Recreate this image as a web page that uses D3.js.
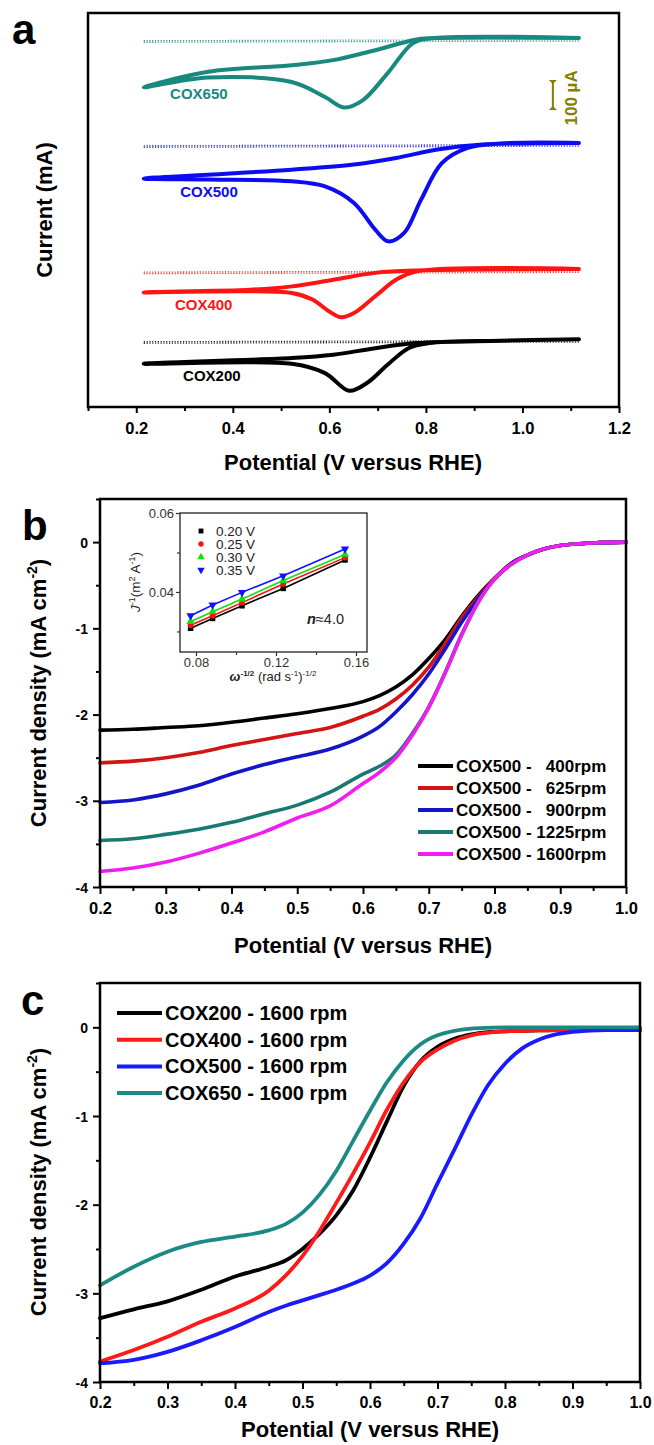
<!DOCTYPE html>
<html>
<head>
<meta charset="utf-8">
<script src="https://cdn.jsdelivr.net/npm/d3@7"></script>
<style>
  body { margin: 0; background: #fff; }
  svg { display: block; }
  text { font-family: "Liberation Sans", Arial, Helvetica, sans-serif; }
</style>
</head>
<body>
<svg id="fig" width="654" height="1445"></svg>
<script>
// ---------- panel a : CV loops, [potential V, current µA relative to plateau]
const cvNames = ["COX650", "COX500", "COX400", "COX200"];
const cvColors = ["#17897f", "#0c0cf2", "#ff1414", "#000000"];
const cvOffsets = [1230, 880, 460, 226];          // stacking offsets (µA)
const cvBackground = [-12, -12, -13, -11];        // N2 background level (µA)
const cv650 = [[1.117, 0], [0.807, -2], [0.772, -19], [0.720, -119], [0.669, -208], [0.630, -232],
  [0.591, -197], [0.522, -147], [0.349, -132], [0.2155, -165], [0.349, -113], [0.522, -91],
  [0.608, -74], [0.695, -41], [0.781, -5], [0.83, 0], [1.117, 0]];
const cv500 = [[1.117, 0], [0.954, -2], [0.885, -17], [0.833, -67], [0.790, -189], [0.755, -300],
  [0.722, -328], [0.695, -289], [0.651, -200], [0.591, -145], [0.522, -128], [0.349, -122],
  [0.2155, -119], [0.349, -106], [0.522, -89], [0.651, -72], [0.738, -50], [0.824, -22],
  [0.911, -6], [1.117, 0]];
const cv400 = [[1.117, 0], [0.781, -8], [0.738, -36], [0.695, -91], [0.651, -147], [0.624, -161],
  [0.599, -141], [0.565, -102], [0.522, -80], [0.2155, -78], [0.436, -69], [0.522, -58],
  [0.608, -36], [0.695, -13], [0.781, -5], [1.117, 0]];
const cv200 = [[1.117, 0], [0.954, -5], [0.807, -13], [0.764, -30], [0.720, -86], [0.677, -147],
  [0.641, -172], [0.591, -113], [0.522, -82], [0.2155, -82], [0.522, -63], [0.608, -52],
  [0.695, -30], [0.781, -13], [0.954, -5], [1.117, 0]];
const cvLoops = [cv650, cv500, cv400, cv200];
const cvLabelPos = [[0.270, -203], [0.291, -180], [0.280, -137], [0.297, -139]];
const cvTicks = [0.2, 0.4, 0.6, 0.8, 1.0, 1.2];
const cvMinorTicks = [0.1, 0.3, 0.5, 0.7, 0.9, 1.1];

// ---------- panel b : LSV of COX500 at different rotation rates
const bPotential = [0.2, 0.25, 0.3, 0.35, 0.4, 0.45, 0.5, 0.55, 0.6, 0.625, 0.65, 0.675, 0.7, 0.725,
  0.75, 0.775, 0.8, 0.825, 0.85, 0.875, 0.9, 0.95, 1.0];
const j400 = [-2.18, -2.17, -2.15, -2.13, -2.09, -2.04, -1.99, -1.93, -1.85, -1.78, -1.68, -1.54, -1.35,
  -1.13, -0.86, -0.62, -0.42, -0.25, -0.15, -0.08, -0.04, -0.01, 0];
const j625 = [-2.56, -2.54, -2.50, -2.44, -2.36, -2.29, -2.22, -2.15, -2.02, -1.94, -1.82, -1.66, -1.45,
  -1.18, -0.88, -0.64, -0.42, -0.25, -0.15, -0.08, -0.04, -0.01, 0];
const j900 = [-3.02, -2.99, -2.92, -2.82, -2.69, -2.58, -2.49, -2.40, -2.25, -2.14, -1.97, -1.77, -1.53,
  -1.24, -0.93, -0.66, -0.43, -0.25, -0.15, -0.08, -0.04, -0.01, 0];
const j1225 = [-3.46, -3.44, -3.39, -3.33, -3.25, -3.15, -3.05, -2.90, -2.69, -2.60, -2.47, -2.22, -1.91,
  -1.51, -1.07, -0.70, -0.43, -0.26, -0.15, -0.08, -0.04, -0.01, 0];
const j1600 = [-3.82, -3.78, -3.71, -3.61, -3.49, -3.36, -3.20, -3.06, -2.80, -2.67, -2.50, -2.24, -1.92,
  -1.52, -1.08, -0.70, -0.43, -0.26, -0.15, -0.08, -0.04, -0.01, 0];
const bSeries = [j400, j625, j900, j1225, j1600];
const bLabels = ["COX500 - \u2007400rpm", "COX500 - \u2007625rpm", "COX500 - \u2007900rpm",
  "COX500 - 1225rpm", "COX500 - 1600rpm"];
const bColors = ["#000000", "#d41414", "#1414c8", "#17796f", "#f01cf0"];

// ---------- panel b inset : Koutecky-Levich
const klOmega = [0.0773, 0.0883, 0.1030, 0.1236, 0.1545];
const kl020 = [0.0308, 0.0333, 0.0365, 0.0409, 0.0481];
const kl025 = [0.0316, 0.0340, 0.0373, 0.0420, 0.0487];
const kl030 = [0.0325, 0.0350, 0.0382, 0.0429, 0.0495];
const kl035 = [0.0340, 0.0367, 0.0399, 0.0441, 0.0509];
const klSeries = [kl020, kl025, kl030, kl035];
const klLabels = ["0.20 V", "0.25 V", "0.30 V", "0.35 V"];
const klColors = ["#000000", "#ff1010", "#10e010", "#1010ff"];

// ---------- panel c : four samples at 1600 rpm
const cPotential = [0.2, 0.25, 0.3, 0.35, 0.4, 0.45, 0.475, 0.5, 0.525, 0.55, 0.575, 0.6, 0.625, 0.65,
  0.675, 0.7, 0.725, 0.75, 0.775, 0.8, 0.825, 0.85, 0.875, 0.9, 0.95, 1.0];
const jC200 = [-3.28, -3.18, -3.09, -2.96, -2.81, -2.70, -2.63, -2.50, -2.33, -2.12, -1.84, -1.47, -1.06,
  -0.66, -0.38, -0.22, -0.13, -0.08, -0.055, -0.045, -0.04, -0.035, -0.03, -0.03, -0.03, -0.03];
const jC400 = [-3.77, -3.64, -3.49, -3.32, -3.17, -2.97, -2.80, -2.58, -2.30, -1.98, -1.65, -1.30, -0.93,
  -0.62, -0.39, -0.25, -0.15, -0.09, -0.06, -0.045, -0.04, -0.035, -0.03, -0.03, -0.03, -0.03];
const jC500 = [-3.79, -3.75, -3.66, -3.53, -3.38, -3.21, -3.14, -3.08, -3.02, -2.96, -2.89, -2.80, -2.66,
  -2.44, -2.15, -1.76, -1.38, -0.99, -0.65, -0.41, -0.24, -0.14, -0.08, -0.05, -0.03, -0.03];
const jC650 = [-2.91, -2.70, -2.53, -2.42, -2.36, -2.29, -2.22, -2.09, -1.89, -1.62, -1.28, -0.94, -0.62,
  -0.37, -0.19, -0.09, -0.04, -0.015, -0.005, 0, 0, 0, 0, 0, 0, 0];
const cSeries = [jC200, jC400, jC500, jC650];
const cLabels = ["COX200 - 1600 rpm", "COX400 - 1600 rpm", "COX500 - 1600 rpm", "COX650 - 1600 rpm"];
const cColors = ["#000000", "#ff1a1a", "#1a1aff", "#1b8a82"];

const lsvTicks = [0.2, 0.3, 0.4, 0.5, 0.6, 0.7, 0.8, 0.9, 1.0];
const lsvMinor = [0.25, 0.35, 0.45, 0.55, 0.65, 0.75, 0.85, 0.95];
const jTicks = [0, -1, -2, -3, -4];
const jMinor = [0.5, -0.5, -1.5, -2.5, -3.5];

// ------------------------------------------------------------------
const svg = d3.select("#fig");

function frame(x0, y0, x1, y1, w, col) {
  svg.append("rect").attr("x", x0).attr("y", y0)
    .attr("width", x1 - x0).attr("height", y1 - y0)
    .attr("fill", "none").attr("stroke", col || "#000").attr("stroke-width", w);
}

function styleText(sel, size, weight, fill) {
  sel.attr("fill", fill || "#000")
    .style("font-family", "'Liberation Sans', Arial, sans-serif")
    .style("font-size", size + "px").style("font-weight", weight);
}

function xAxis(scale, y, major, minor, fmt, o) {
  const g = svg.append("g").attr("transform", `translate(0,${y})`);
  g.append("g").call(d3.axisBottom(scale).tickValues(minor).tickSize(o.minor).tickFormat(""));
  const m = g.append("g").call(d3.axisBottom(scale).tickValues(major).tickSize(o.major).tickFormat(fmt));
  g.selectAll(".domain").remove();
  g.selectAll("line").attr("stroke", o.col || "#000").attr("stroke-width", o.sw);
  styleText(m.selectAll("text").attr("y", o.dy).attr("dy", null), o.size, o.weight, o.col);
}

function yAxis(scale, x, major, minor, fmt, o) {
  const g = svg.append("g").attr("transform", `translate(${x},0)`);
  g.append("g").call(d3.axisLeft(scale).tickValues(minor).tickSize(o.minor).tickFormat(""));
  const m = g.append("g").call(d3.axisLeft(scale).tickValues(major).tickSize(o.major).tickFormat(fmt));
  g.selectAll(".domain").remove();
  g.selectAll("line").attr("stroke", o.col || "#000").attr("stroke-width", o.sw);
  styleText(m.selectAll("text").attr("x", -o.dx).attr("dy", "0.36em"), o.size, o.weight, o.col);
}

function panelLabel(txt, x, y) {
  styleText(svg.append("text").attr("x", x).attr("y", y).text(txt), 42, "bold");
}

function yTitle(x, y, size, parts) {
  const t = svg.append("text").attr("transform", `translate(${x},${y}) rotate(-90)`)
    .attr("text-anchor", "middle");
  styleText(t, size, "bold");
  parts.forEach(p => {
    const s = t.append("tspan").text(p.t);
    if (p.dy) s.attr("dy", p.dy);
    if (p.fs) s.style("font-size", p.fs + "px");
  });
  return t;
}

const numFmt = d => String(d);

// ========================= panel a =========================
const ax = d3.scaleLinear().domain([0.1, 1.2]).range([88, 619]);
const ay = d3.scaleLinear().domain([0, 1313]).range([407, 13]);

panelLabel("a", 12, 44);

cvLoops.forEach((loop, k) => {
  const off = cvOffsets[k];
  // N2 background (dotted, two close rows)
  [2.5, -2.5].forEach(d => {
    svg.append("path")
      .datum([[0.2155, cvBackground[k] + d], [1.117, cvBackground[k] + d + 4]])
      .attr("d", d3.line().x(p => ax(p[0])).y(p => ay(p[1] + off)))
      .attr("fill", "none").attr("stroke", cvColors[k]).attr("stroke-width", 1.3)
      .attr("stroke-dasharray", "1.2,1.6").attr("opacity", 0.85);
  });
  svg.append("path").datum(loop)
    .attr("d", d3.line().x(p => ax(p[0])).y(p => ay(p[1] + off)).curve(d3.curveCatmullRom.alpha(0.5)))
    .attr("fill", "none").attr("stroke", cvColors[k]).attr("stroke-width", 4)
    .attr("stroke-linecap", "round").attr("stroke-linejoin", "round");
  styleText(svg.append("text")
    .attr("x", ax(cvLabelPos[k][0])).attr("y", ay(cvLabelPos[k][1] + off))
    .text(cvNames[k]), 15, "bold", cvColors[k]);
});

// 100 µA scale bar
const barV = 1.063, barLo = 990, barHi = 1090, olive = "#857f00";
svg.append("line").attr("x1", ax(barV)).attr("x2", ax(barV))
  .attr("y1", ay(barLo)).attr("y2", ay(barHi)).attr("stroke", olive).attr("stroke-width", 2);
[[barHi, 1], [barLo, -1]].forEach(([v, s]) => {
  const x = ax(barV), y = ay(v);
  svg.append("path")
    .attr("d", `M${x - 4},${y} L${x + 4},${y} L${x},${y + 4 * s} Z`)
    .attr("fill", olive);
});
styleText(svg.append("text")
  .attr("transform", `translate(${ax(1.113)},${ay((barLo + barHi) / 2 - 10)}) rotate(-90)`)
  .attr("text-anchor", "middle").text("100 µA"), 17, "bold", olive);

frame(88, 13, 619, 407, 2.5);
xAxis(ax, 407, cvTicks, cvMinorTicks, d3.format(".1f"),
  { major: 6, minor: 4, sw: 2, dy: 27, size: 16.5, weight: "bold" });
styleText(svg.append("text").attr("x", 353).attr("y", 470).attr("text-anchor", "middle")
  .text("Potential (V versus RHE)"), 22, "bold");
yTitle(52, 210, 22, [{ t: "Current (mA)" }]);

// ========================= panel b =========================
const bx = d3.scaleLinear().domain([0.2, 1.0]).range([100, 626]);
const by = d3.scaleLinear().domain([-4, 0.5]).range([887, 499]);

panelLabel("b", 22, 540);

bSeries.forEach((s, k) => {
  svg.append("path").datum(s)
    .attr("d", d3.line().x((d, i) => bx(bPotential[i])).y(d => by(d)).curve(d3.curveMonotoneX))
    .attr("fill", "none").attr("stroke", bColors[k]).attr("stroke-width", 3.6)
    .attr("stroke-linecap", "round");
});

bLabels.forEach((lab, k) => {
  const y = 766 + k * 22;
  svg.append("line").attr("x1", 418).attr("x2", 453).attr("y1", y).attr("y2", y)
    .attr("stroke", bColors[k]).attr("stroke-width", 4);
  styleText(svg.append("text").attr("x", 456).attr("y", y + 6).text(lab), 17, "bold");
});

frame(100, 499, 626, 887, 2.5);
xAxis(bx, 887, lsvTicks, lsvMinor, d3.format(".1f"),
  { major: 7, minor: 4, sw: 2, dy: 27, size: 16.5, weight: "bold" });
yAxis(by, 100, jTicks, jMinor, numFmt,
  { major: 7, minor: 4, sw: 2, dx: 12, size: 14, weight: "bold" });
styleText(svg.append("text").attr("x", 363).attr("y", 953).attr("text-anchor", "middle")
  .text("Potential (V versus RHE)"), 22, "bold");
yTitle(46, 693, 22, [{ t: "Current density (mA cm" }, { t: "-2", dy: -9, fs: 14 }, { t: ")", dy: 9 }]);

// ---------- inset
const ix = d3.scaleLinear().domain([0.072, 0.1655]).range([180, 367]);
const iy = d3.scaleLinear().domain([0.0248, 0.06]).range([652, 513]);
const symTypes = [d3.symbolSquare, d3.symbolCircle, d3.symbolTriangle, d3.symbolTriangle];
const symRot = [0, 0, 0, 180];

svg.append("rect").attr("x", 180).attr("y", 513).attr("width", 187).attr("height", 139).attr("fill", "#fff");
klSeries.forEach((s, k) => {
  svg.append("path").datum(s)
    .attr("d", d3.line().x((d, i) => ix(klOmega[i])).y(d => iy(d)))
    .attr("fill", "none").attr("stroke", klColors[k]).attr("stroke-width", 1.6);
  svg.selectAll(null).data(s).enter().append("path")
    .attr("transform", (d, i) => `translate(${ix(klOmega[i])},${iy(d)}) rotate(${symRot[k]})`)
    .attr("d", d3.symbol().type(symTypes[k]).size(k === 1 ? 26 : 30))
    .attr("fill", klColors[k]);
});
klLabels.forEach((lab, k) => {
  const y = 531 + k * 13;
  svg.append("path")
    .attr("transform", `translate(201,${y}) rotate(${symRot[k]})`)
    .attr("d", d3.symbol().type(symTypes[k]).size(k === 1 ? 22 : 24))
    .attr("fill", klColors[k]);
  styleText(svg.append("text").attr("x", 216).attr("y", y + 4.5).text(lab), 13.5, "normal", "#222");
});
const nTxt = svg.append("text").attr("x", 307).attr("y", 624);
styleText(nTxt, 14.5, "normal", "#222");
nTxt.append("tspan").text("n").style("font-style", "italic").style("font-weight", "bold");
nTxt.append("tspan").text("≈4.0");

frame(180, 513, 367, 652, 1.3, "#222");
const inAx = { major: 4, minor: 3, sw: 1.2, dy: 15, size: 13, weight: "normal", col: "#333" };
xAxis(ix, 652, [0.08, 0.12, 0.16], [0.10, 0.14], d3.format(".2f"), inAx);
yAxis(iy, 180, [0.04, 0.06], [0.03, 0.05], d3.format(".2f"),
  { major: 4, minor: 3, sw: 1.2, dx: 6, size: 13, weight: "normal", col: "#333" });
const ixt = svg.append("text").attr("x", 273).attr("y", 681).attr("text-anchor", "middle");
styleText(ixt, 13, "normal", "#222");
ixt.append("tspan").text("ω").style("font-style", "italic").style("font-weight", "bold");
ixt.append("tspan").text("-1/2").attr("dy", -5).style("font-size", "8px").style("font-weight", "bold");
ixt.append("tspan").text(" (rad s").attr("dy", 5);
ixt.append("tspan").text("-1").attr("dy", -5).style("font-size", "8px");
ixt.append("tspan").text(")").attr("dy", 5);
ixt.append("tspan").text("-1/2").attr("dy", -5).style("font-size", "8px");
const iyt = svg.append("text").attr("transform", "translate(140,582) rotate(-90)").attr("text-anchor", "middle");
styleText(iyt, 13.5, "normal", "#222");
iyt.append("tspan").text("J").style("font-style", "italic");
iyt.append("tspan").text("-1").attr("dy", -5).style("font-size", "9px");
iyt.append("tspan").text("(m").attr("dy", 5);
iyt.append("tspan").text("2").attr("dy", -5).style("font-size", "9px");
iyt.append("tspan").text(" A").attr("dy", 5);
iyt.append("tspan").text("-1").attr("dy", -5).style("font-size", "9px");
iyt.append("tspan").text(")").attr("dy", 5);

// ========================= panel c =========================
const cx = d3.scaleLinear().domain([0.2, 1.0]).range([100, 640]);
const cy = d3.scaleLinear().domain([-4, 0.5]).range([1382, 983]);

panelLabel("c", 21, 1015);

cSeries.forEach((s, k) => {
  svg.append("path").datum(s)
    .attr("d", d3.line().x((d, i) => cx(cPotential[i])).y(d => cy(d)).curve(d3.curveMonotoneX))
    .attr("fill", "none").attr("stroke", cColors[k]).attr("stroke-width", 3.8)
    .attr("stroke-linecap", "round");
});

cLabels.forEach((lab, k) => {
  const y = 1013 + k * 26.7;
  svg.append("line").attr("x1", 117).attr("x2", 162).attr("y1", y).attr("y2", y)
    .attr("stroke", cColors[k]).attr("stroke-width", 4);
  styleText(svg.append("text").attr("x", 165).attr("y", y + 7).text(lab), 20, "bold");
});

frame(100, 983, 640, 1382, 2.5);
xAxis(cx, 1382, lsvTicks, lsvMinor, d3.format(".1f"),
  { major: 7, minor: 4, sw: 2, dy: 26, size: 16, weight: "bold" });
yAxis(cy, 100, jTicks, jMinor, numFmt,
  { major: 7, minor: 4, sw: 2, dx: 12, size: 14, weight: "bold" });
styleText(svg.append("text").attr("x", 370).attr("y", 1437).attr("text-anchor", "middle")
  .text("Potential (V versus RHE)"), 22, "bold");
yTitle(46, 1182, 22, [{ t: "Current density (mA cm" }, { t: "-2", dy: -9, fs: 14 }, { t: ")", dy: 9 }]);
</script>
</body>
</html>
